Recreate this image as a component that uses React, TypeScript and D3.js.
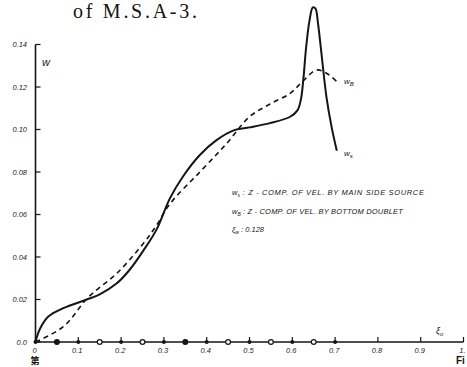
import React from "react";
import * as d3 from "d3";

// Data
const wsX = [0, 0.01, 0.03, 0.065, 0.12, 0.15, 0.19, 0.22, 0.252, 0.283, 0.314, 0.345, 0.384, 0.423, 0.466, 0.5, 0.548, 0.595, 0.612, 0.62, 0.626, 0.632, 0.64, 0.648, 0.654, 0.66, 0.668, 0.68, 0.692, 0.704];
const wsY = [0, 0.006, 0.012, 0.0159, 0.02, 0.0224, 0.0276, 0.034, 0.043, 0.053, 0.0676, 0.078, 0.088, 0.095, 0.0998, 0.101, 0.103, 0.106, 0.109, 0.114, 0.124, 0.138, 0.151, 0.1575, 0.157, 0.15, 0.136, 0.115, 0.101, 0.09];
const wbX = [0, 0.065, 0.123, 0.19, 0.252, 0.283, 0.314, 0.384, 0.447, 0.5, 0.548, 0.595, 0.626, 0.657, 0.68, 0.704];
const wbY = [0, 0.0072, 0.021, 0.0323, 0.0464, 0.055, 0.065, 0.08, 0.0935, 0.106, 0.112, 0.117, 0.123, 0.128, 0.1265, 0.1225];
const xTicks = [0, 0.1, 0.2, 0.3, 0.4, 0.5, 0.6, 0.7, 0.8, 0.9, 1.0];
const xTickLabels = ["0", "0.1", "0.2", "0.3", "0.4", "0.5", "0.6", "0.7", "0.8", "0.9", "1."];
const yTicks = [0, 0.02, 0.04, 0.06, 0.08, 0.1, 0.12, 0.14];
const yTickLabels = ["0.0", "0.02", "0.04", "0.06", "0.08", "0.10", "0.12", "0.14"];
const circleX = [0.05, 0.15, 0.25, 0.35, 0.45, 0.55, 0.65];
const circleFilled = [true, false, false, true, false, false, false];
const dotX = [0, 0.1, 0.2, 0.3, 0.4, 0.5, 0.6, 0.7];

const x = d3.scaleLinear().domain([0, 1]).range([35.5, 463.5]);
const y = d3.scaleLinear().domain([0, 0.14]).range([342, 44.5]);

const line = d3
  .line<[number, number]>()
  .x((d) => x(d[0]))
  .y((d) => y(d[1]))
  .curve(d3.curveCatmullRom.alpha(0.5));

const ink = "#151515";
const smallFont = "'Liberation Sans', Arial, sans-serif";

export default function App() {
  const wsPath = line(wsX.map((v, i) => [v, wsY[i]]) as [number, number][]) || "";
  const wbPath = line(wbX.map((v, i) => [v, wbY[i]]) as [number, number][]) || "";
  return (
    <svg width={467} height={367} style={{ position: "absolute", left: 0, top: 0, background: "#fff" }}>
      <rect width={467} height={367} fill="#fff" />
      <text x={73} y={18} fontFamily="'Liberation Serif', 'Times New Roman', serif" fontSize={20} textLength={124} fill={ink}>
        of M.S.A-3.
      </text>
      {/* axes */}
      <line x1={x(0)} x2={x(0)} y1={y(0)} y2={y(0.14)} stroke={ink} strokeWidth={1.6} />
      <line x1={x(0)} x2={x(1)} y1={y(0)} y2={y(0)} stroke={ink} strokeWidth={1.6} />
      {yTicks.map((t, i) => (
        <g key={"yt" + i}>
          <line x1={x(0)} x2={x(0) + 5} y1={y(t)} y2={y(t)} stroke={ink} strokeWidth={1.2} />
          <text x={27} y={y(t) + 2.5} textAnchor="end" fontFamily={smallFont} fontStyle="italic" fontSize={7.5} fill="#222">
            {yTickLabels[i]}
          </text>
        </g>
      ))}
      {xTicks.map((t, i) => (
        <g key={"xt" + i}>
          <line x1={x(t)} x2={x(t)} y1={y(0)} y2={y(0) - 5} stroke={ink} strokeWidth={1.2} />
          <text x={x(t) - 1} y={353} textAnchor="middle" fontFamily={smallFont} fontStyle="italic" fontSize={7.5} fill="#222">
            {xTickLabels[i]}
          </text>
        </g>
      ))}
      {dotX.map((t, i) => (
        <circle key={"d" + i} cx={x(t)} cy={y(0)} r={2} fill={ink} />
      ))}
      {circleX.map((t, i) => (
        <circle key={"c" + i} cx={x(t)} cy={y(0)} r={2.4} fill={circleFilled[i] ? ink : "#fff"} stroke={ink} strokeWidth={1.2} />
      ))}
      {/* curves */}
      <path d={wbPath} fill="none" stroke={ink} strokeWidth={1.6} strokeDasharray="5,4" />
      <path d={wsPath} fill="none" stroke={ink} strokeWidth={2} strokeLinejoin="round" />
      {/* labels */}
      <text x={42} y={66} fontFamily={smallFont} fontStyle="italic" fontSize={11} fill={ink}>w</text>
      <text x={344} y={84} fontFamily={smallFont} fontStyle="italic" fontSize={8} fill={ink}>
        w<tspan fontSize={6} dy={1.5}>B</tspan>
      </text>
      <text x={344} y={156} fontFamily={smallFont} fontStyle="italic" fontSize={8} fill={ink}>
        w<tspan fontSize={6} dy={1.5}>s</tspan>
      </text>
      <text x={232} y={195} fontFamily={smallFont} fontStyle="italic" fontSize={7.5} fill={ink}>
        w<tspan fontSize={5} dy={1.5}>s</tspan>
        <tspan dy={-1.5} textLength={184}> : Z - COMP. OF VEL. BY MAIN  SIDE SOURCE</tspan>
      </text>
      <text x={232} y={214} fontFamily={smallFont} fontStyle="italic" fontSize={7.5} fill={ink}>
        w<tspan fontSize={5} dy={1.5}>B</tspan>
        <tspan dy={-1.5} textLength={162}> : Z - COMP. OF VEL. BY BOTTOM DOUBLET</tspan>
      </text>
      <text x={232} y={232} fontFamily={smallFont} fontStyle="italic" fontSize={7.5} fill={ink}>
        ξ<tspan fontSize={5} dy={1.5}>w</tspan>
        <tspan dy={-1.5}>   :  0.128</tspan>
      </text>
      <text x={436} y={334} fontFamily={smallFont} fontStyle="italic" fontSize={9} fill={ink}>
        ξ<tspan fontSize={6} dy={1.5}>o</tspan>
      </text>
      <text x={35} y={364} textAnchor="middle" fontFamily="'Noto Sans CJK JP', sans-serif" fontSize={9} fontWeight="bold" fill={ink}>第</text>
      <text x={456} y={364} fontFamily={smallFont} fontWeight="bold" fontSize={10} fill={ink}>Fi</text>
    </svg>
  );
}
